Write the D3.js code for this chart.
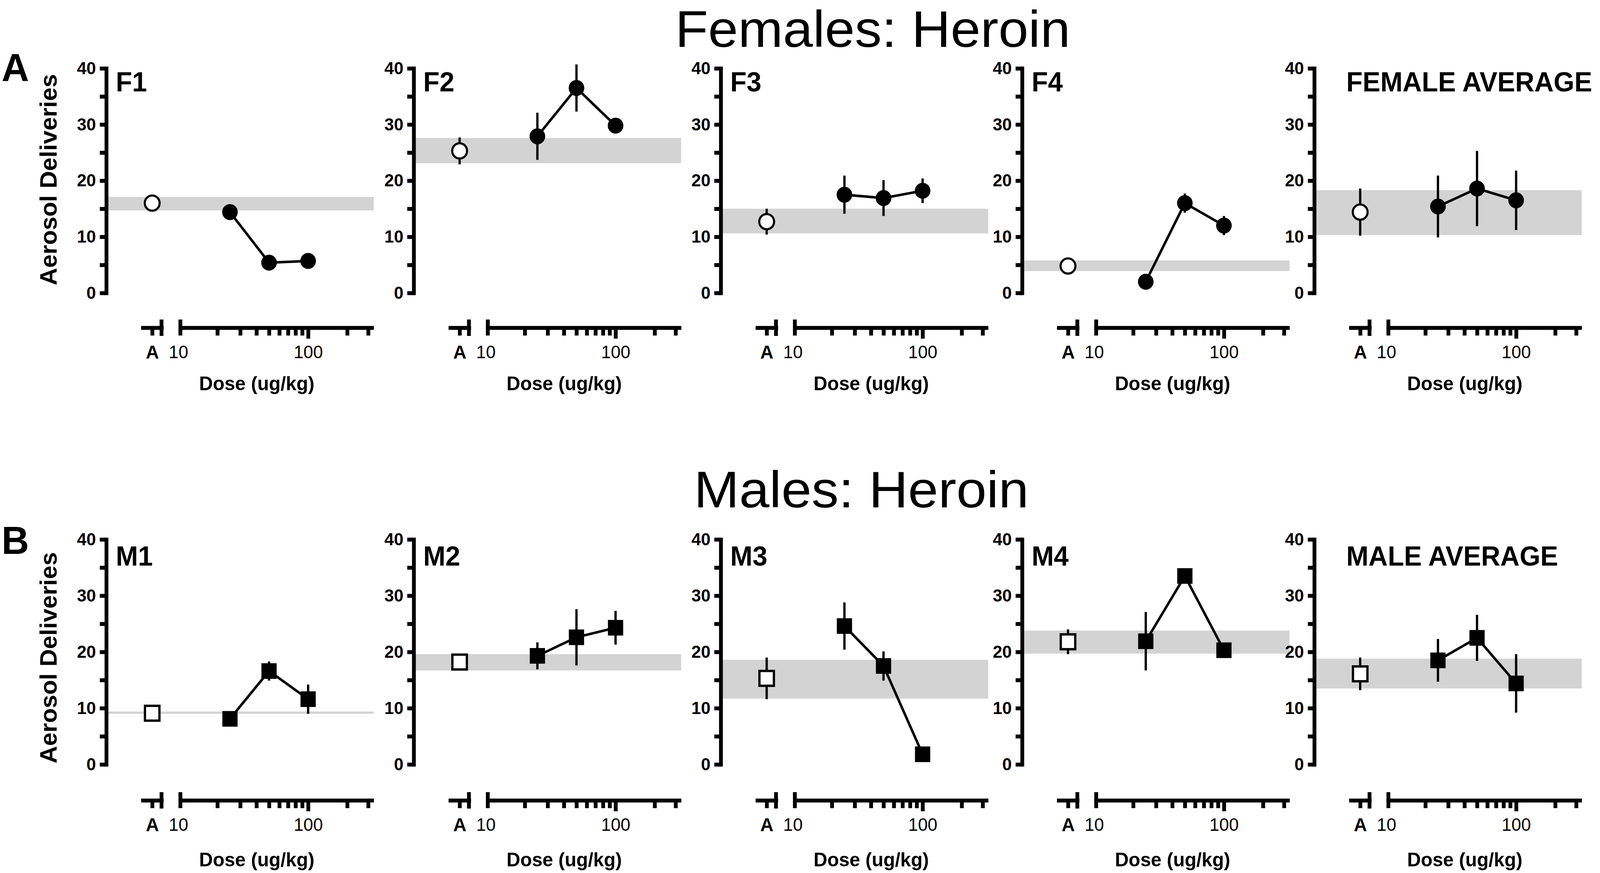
<!DOCTYPE html>
<html>
<head>
<meta charset="utf-8">
<script src="https://cdn.jsdelivr.net/npm/d3@7"></script>
<style>
  html, body { margin: 0; padding: 0; background: #fff; overflow: hidden; }
  svg { display: block; }
  text { font-family: "Liberation Sans", Arial, sans-serif; fill: #000; }
</style>
</head>
<body>
<div id="chart"></div>
<script>
// Doses tested (ug/kg) and the tick values of the log dose axis
const doses = [25, 50, 100];
const doseTicks = [10, 20, 30, 40, 50, 60, 70, 80, 90, 100, 200, 300];
const yTicks = [0, 5, 10, 15, 20, 25, 30, 35, 40];

// Females
const femaleLabels = ['F1', 'F2', 'F3', 'F4', 'FEMALE AVERAGE'];
const femaleBaseline = [16.0, 25.3, 12.7, 4.8, 14.4];
const femaleBaselineErr = [0, 2.4, 2.3, 0, 4.2];
const femaleBandLow = [14.7, 23.1, 10.6, 3.9, 10.3];
const femaleBandHigh = [17.1, 27.6, 15.0, 5.8, 18.3];
const femaleMeans = [[14.4, 5.4, 5.7], [27.9, 36.5, 29.8], [17.5, 16.9, 18.2], [2.0, 16.0, 12.0], [15.4, 18.6, 16.5]];
const femaleErrs = [[0, 0, 0], [4.2, 4.2, 0], [3.4, 3.2, 2.2], [0, 1.7, 1.7], [5.5, 6.7, 5.3]];

// Males
const maleLabels = ['M1', 'M2', 'M3', 'M4', 'MALE AVERAGE'];
const maleBaseline = [9.1, 18.2, 15.3, 21.8, 16.1];
const maleBaselineErr = [0, 0, 3.7, 2.2, 2.9];
const maleBandLow = [9.0, 16.7, 11.7, 19.7, 13.5];
const maleBandHigh = [9.4, 19.6, 18.6, 23.8, 18.8];
const maleMeans = [[8.1, 16.6, 11.6], [19.3, 22.6, 24.3], [24.6, 17.5, 1.8], [21.9, 33.5, 20.3], [18.5, 22.5, 14.4]];
const maleErrs = [[0, 1.7, 2.6], [2.4, 5.0, 3.0], [4.2, 2.6, 0], [5.2, 0, 0], [3.8, 4.1, 5.2]];

// Layout (drawn in a 4200 x 2235 space, stretched onto whatever viewport we get)
const width = 4200, height = 2235;
const colX = [279, 1086, 1892, 2683, 3450];
const FONT = '"Liberation Sans", Arial, sans-serif';
const AXW = 10;          // axis stroke width
const BAND = '#d3d3d3';

const vw = window.innerWidth || width;
const vh = window.innerHeight || height;

const svg = d3.select('#chart').append('svg')
  .attr('width', vw)
  .attr('height', vh)
  .attr('viewBox', `0 0 ${width} ${height}`)
  .attr('preserveAspectRatio', 'none');
svg.append('rect').attr('width', width).attr('height', height).attr('fill', '#fff');

const rows = [
  {
    title: 'Females: Heroin', titleX: 2291, titleY: 120, titleW: 1037, letter: 'A', letterY: 208,
    top: 175, bottom: 750, xAxisY: 839, labelY: 234, doseLabelY: 999, yTitleY: 460,
    labels: femaleLabels, baseline: femaleBaseline, baseErr: femaleBaselineErr,
    bandLow: femaleBandLow, bandHigh: femaleBandHigh, means: femaleMeans, errs: femaleErrs,
    marker: 'circle'
  },
  {
    title: 'Males: Heroin', titleX: 2261, titleY: 1299, titleW: 879, letter: 'B', letterY: 1418,
    top: 1381, bottom: 1957, xAxisY: 2049, labelY: 1448, doseLabelY: 2218, yTitleY: 1684,
    labels: maleLabels, baseline: maleBaseline, baseErr: maleBaselineErr,
    bandLow: maleBandLow, bandHigh: maleBandHigh, means: maleMeans, errs: maleErrs,
    marker: 'square'
  }
];

rows.forEach(row => {
  // Row title and panel letter
  svg.append('text')
    .attr('x', row.titleX).attr('y', row.titleY)
    .attr('text-anchor', 'middle')
    .attr('textLength', row.titleW)
    .attr('lengthAdjust', 'spacingAndGlyphs')
    .style('font-size', '132px')
    .text(row.title);
  svg.append('text')
    .attr('x', 4).attr('y', row.letterY)
    .style('font-size', '100px').style('font-weight', 'bold')
    .text(row.letter);

  // Y axis title only on the first column
  svg.append('text')
    .attr('transform', `translate(${colX[0] - 152},${row.yTitleY}) rotate(-90)`)
    .attr('text-anchor', 'middle')
    .attr('dy', '0.35em')
    .style('font-size', '62px').style('font-weight', 'bold')
    .text('Aerosol Deliveries');

  row.labels.forEach((label, i) => {
    const x0 = colX[i];
    const g = svg.append('g').attr('class', 'panel');

    const y = d3.scaleLinear().domain([0, 40]).range([row.bottom, row.top]);
    const xLog = d3.scaleLog().domain([10, 320]).range([x0 + 189, x0 + 702]);
    const xA = d3.scalePoint().domain(['A']).range([x0 + 91, x0 + 150]);

    // grey band
    g.append('rect')
      .attr('x', x0 + AXW / 2)
      .attr('width', xLog.range()[1] - x0 - AXW / 2)
      .attr('y', y(row.bandHigh[i]))
      .attr('height', Math.max(3, y(row.bandLow[i]) - y(row.bandHigh[i])))
      .attr('fill', BAND);

    // y axis
    const yAxis = g.append('g')
      .attr('transform', `translate(${x0},0)`)
      .call(d3.axisLeft(y).tickValues(yTicks).tickSize(17).tickSizeOuter(0).tickPadding(10)
        .tickFormat(d => d % 10 === 0 ? d : ''));
    yAxis.select('.domain').attr('stroke-width', AXW).attr('stroke-linecap', 'square');
    yAxis.selectAll('.tick line').attr('stroke-width', AXW);
    yAxis.selectAll('.tick text')
      .style('font-family', FONT).style('font-size', '45px').style('font-weight', 'bold');

    // x axis: baseline segment "A"
    const xa = g.append('g')
      .attr('transform', `translate(0,${row.xAxisY})`)
      .call(d3.axisBottom(xA).tickSize(20).tickSizeOuter(0));
    xa.select('.domain').attr('stroke-width', AXW);
    xa.selectAll('.tick line').attr('stroke-width', AXW);
    xa.selectAll('.tick text').attr('y', 45)
      .style('font-family', FONT).style('font-size', '48px').style('font-weight', 'bold');
    xa.append('line')
      .attr('x1', xA.range()[1] - AXW / 2).attr('x2', xA.range()[1] - AXW / 2)
      .attr('y1', -21).attr('y2', 21)
      .attr('stroke', '#000').attr('stroke-width', AXW);

    // x axis: log dose segment
    const xl = g.append('g')
      .attr('transform', `translate(0,${row.xAxisY})`)
      .call(d3.axisBottom(xLog).tickValues(doseTicks).tickSize(20).tickSizeOuter(0)
        .tickFormat(d => (d === 10 || d === 100) ? d : ''));
    xl.select('.domain').attr('stroke-width', AXW);
    xl.selectAll('.tick line').attr('stroke-width', AXW)
      .attr('y2', d => d === 100 ? 28 : 20)
      .attr('y1', d => d === 10 ? -21 : 0)
      .attr('transform', d => d === 10 ? `translate(${AXW / 2},0)` : d === 300 ? `translate(${-AXW / 2},0)` : null);
    xl.selectAll('.tick text').attr('y', 45)
      .style('font-family', FONT).style('font-size', '46px');

    // x axis title
    g.append('text')
      .attr('x', x0 + 395).attr('y', row.doseLabelY)
      .attr('text-anchor', 'middle')
      .style('font-size', '50px').style('font-weight', 'bold')
      .text('Dose (ug/kg)');

    // panel label
    g.append('text')
      .attr('x', x0 + (i === 4 ? 84 : 25)).attr('y', row.labelY)
      .style('font-size', '70px').style('font-weight', 'bold')
      .text(label);

    // data
    const pts = doses.map((d, k) => ({ x: xLog(d), v: row.means[i][k], e: row.errs[i][k] }));
    const base = { x: xA('A'), v: row.baseline[i], e: row.baseErr[i] };

    // error bars
    g.selectAll('.err')
      .data([base, ...pts].filter(p => p.e > 0))
      .enter().append('line')
      .attr('x1', p => p.x).attr('x2', p => p.x)
      .attr('y1', p => y(p.v - p.e)).attr('y2', p => y(p.v + p.e))
      .attr('stroke', '#000').attr('stroke-width', 6);

    // connecting line
    g.append('path')
      .datum(pts)
      .attr('d', d3.line().x(p => p.x).y(p => y(p.v)))
      .attr('fill', 'none').attr('stroke', '#000').attr('stroke-width', 6.5);

    if (row.marker === 'circle') {
      g.append('circle')
        .attr('cx', base.x).attr('cy', y(base.v)).attr('r', 19.5)
        .attr('fill', '#fff').attr('stroke', '#000').attr('stroke-width', 5.5);
      g.selectAll('.pt').data(pts).enter().append('circle')
        .attr('cx', p => p.x).attr('cy', p => y(p.v)).attr('r', 20.5)
        .attr('fill', '#000');
    } else {
      const so = 38;
      g.append('rect')
        .attr('x', base.x - so / 2).attr('y', y(base.v) - so / 2)
        .attr('width', so).attr('height', so)
        .attr('fill', '#fff').attr('stroke', '#000').attr('stroke-width', 6);
      const sf = 40;
      g.selectAll('.pt').data(pts).enter().append('rect')
        .attr('x', p => p.x - sf / 2).attr('y', p => y(p.v) - sf / 2)
        .attr('width', sf).attr('height', sf)
        .attr('fill', '#000');
    }
  });
});
</script>
</body>
</html>
